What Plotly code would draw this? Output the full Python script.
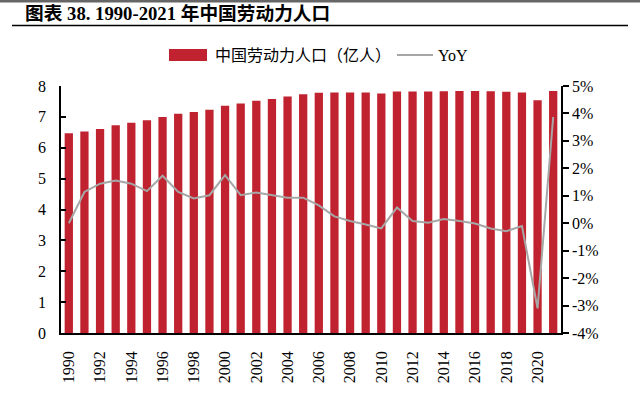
import plotly.graph_objects as go

years = list(range(1990, 2022))
labor = [6.47, 6.53, 6.61, 6.73, 6.81, 6.89, 7.00, 7.10, 7.16, 7.23,
         7.36, 7.43, 7.52, 7.58, 7.66, 7.73, 7.78, 7.79, 7.79, 7.79,
         7.76, 7.82, 7.82, 7.82, 7.83, 7.84, 7.84, 7.83, 7.81, 7.79,
         7.54, 7.84]
yoy = [0.00, 1.14, 1.44, 1.56, 1.44, 1.17, 1.73, 1.14, 0.90, 1.02,
       1.75, 1.02, 1.12, 1.02, 0.93, 0.93, 0.65, 0.25, 0.08, -0.05,
       -0.19, 0.57, 0.08, 0.02, 0.15, 0.08, -0.01, -0.19, -0.29, -0.10,
       -3.10, 3.87]
x_ticks = list(range(1990, 2021, 2))
left_ticks = [0, 1, 2, 3, 4, 5, 6, 7, 8]
right_ticks = [-4, -3, -2, -1, 0, 1, 2, 3, 4, 5]
right_labels = [f"{v}%" for v in right_ticks]

title_text = "图表 38. 1990-2021 年中国劳动力人口"
bar_name = "中国劳动力人口（亿人）"
line_name = "YoY"

BAR_COLOR = "#C0232F"
LINE_COLOR = "#A6A6A6"
FONT = "Liberation Serif, Noto Sans CJK SC, serif"

# plot area in pixels
L, R, T, B = 61, 561, 86, 333
W, H = R - L, B - T


def xp(px):
    return (px - L) / W


def yp(py):
    return (B - py) / H


fig = go.Figure()
fig.add_trace(go.Bar(x=years, y=labor, name=bar_name, marker_color=BAR_COLOR,
                     marker_line_width=0, showlegend=False))
fig.add_trace(go.Scatter(x=years, y=yoy, name=line_name, yaxis="y2", mode="lines",
                         line=dict(color=LINE_COLOR, width=2), showlegend=False))

fig.update_layout(
    width=640, height=395,
    margin=dict(l=L, r=640 - R, t=T, b=395 - B),
    paper_bgcolor="white", plot_bgcolor="white",
    font=dict(family=FONT, size=16, color="black"),
    bargap=0.47,
    xaxis=dict(range=[1989.5, 2021.5], tickmode="array", tickvals=x_ticks,
               ticktext=[str(v) for v in x_ticks], tickangle=-90,
               showline=True, linecolor="black", linewidth=1.5,
               ticks="", showgrid=False, zeroline=False,
               tickfont=dict(size=16), ticklabelstandoff=10),
    yaxis=dict(range=[0, 8], tickmode="array", tickvals=left_ticks,
               showline=True, linecolor="black", linewidth=1.5,
               ticks="inside", ticklen=5, tickcolor="black", tickwidth=1.5,
               showgrid=False, zeroline=False, ticklabelstandoff=10),
    yaxis2=dict(range=[-4, 5], overlaying="y", side="right", tickmode="array",
                tickvals=right_ticks, ticktext=right_labels,
                showline=True, linecolor="black", linewidth=1.5,
                ticks="outside", ticklen=6, tickcolor="black", tickwidth=1.5,
                showgrid=False, zeroline=False),
)

shapes = [
    dict(type="rect", xref="paper", yref="paper", x0=xp(0), x1=xp(640),
         y0=yp(0), y1=yp(2.5), fillcolor="#666666", line_width=0),
    dict(type="line", xref="paper", yref="paper", x0=xp(12), x1=xp(628),
         y0=yp(25.5), y1=yp(25.5), line=dict(color="black", width=1.5)),
    dict(type="rect", xref="paper", yref="paper", x0=xp(169), x1=xp(207),
         y0=yp(61), y1=yp(49), fillcolor=BAR_COLOR, line_width=0),
    dict(type="line", xref="paper", yref="paper", x0=xp(397), x1=xp(433),
         y0=yp(55), y1=yp(55), line=dict(color=LINE_COLOR, width=2)),
]
annotations = [
    dict(text=f"<b>{title_text}</b>", xref="paper", yref="paper", x=xp(23), y=yp(14),
         xanchor="left", yanchor="middle", showarrow=False,
         font=dict(size=18.7, family=FONT)),
    dict(text=bar_name, xref="paper", yref="paper", x=xp(213), y=yp(55),
         xanchor="left", yanchor="middle", showarrow=False,
         font=dict(size=16, family=FONT)),
    dict(text=line_name, xref="paper", yref="paper", x=xp(436), y=yp(55),
         xanchor="left", yanchor="middle", showarrow=False,
         font=dict(size=16, family=FONT)),
]
fig.update_layout(shapes=shapes, annotations=annotations)

fig.write_html("out.html", config={"displayModeBar": False},
               post_script="document.body.style.margin='0';document.body.style.padding='0';")
